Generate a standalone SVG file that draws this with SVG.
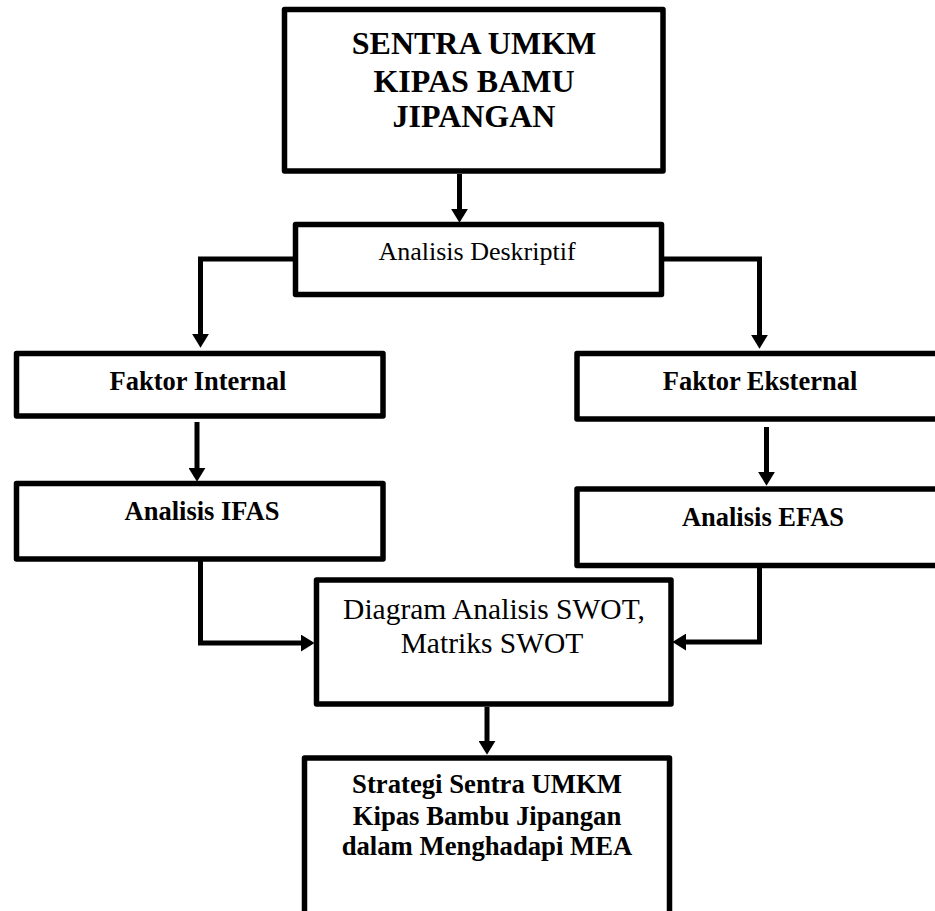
<svg xmlns="http://www.w3.org/2000/svg" width="935" height="911" viewBox="0 0 935 911">
<style>
.box{fill:#fff;stroke:#000;stroke-width:5.5;stroke-linejoin:round}
.con{fill:none;stroke:#000;stroke-width:5;stroke-linejoin:miter}
.t{font-family:"Liberation Serif","Times New Roman",serif;fill:#000;text-anchor:middle}
.b{font-weight:bold}
</style>
<defs>
<marker id="ah" markerUnits="userSpaceOnUse" markerWidth="14" markerHeight="17" viewBox="0 0 13 16" refX="3" refY="8" orient="auto">
<path d="M0,0 L13,8 L0,16 z" fill="#000"/>
</marker>
</defs>
<rect width="935" height="911" fill="#fff"/>
<g id="sentra">
<rect class="box" x="284.5" y="9.5" width="378.5" height="161.5"/>
<text class="t b" x="474" y="53.5" font-size="32">SENTRA UMKM</text>
<text class="t b" x="474" y="91.5" font-size="32">KIPAS BAMU</text>
<text class="t b" x="474" y="127" font-size="32">JIPANGAN</text>
</g>
<g id="deskriptif">
<rect class="box" x="295.5" y="224.5" width="366" height="70"/>
<text class="t" x="477" y="260" font-size="26">Analisis Deskriptif</text>
</g>
<g id="internal">
<rect class="box" x="16.5" y="353.5" width="366.5" height="62.5"/>
<text class="t b" x="198" y="390" font-size="26.5">Faktor Internal</text>
</g>
<g id="eksternal">
<rect class="box" x="577" y="353.5" width="370" height="65.5"/>
<text class="t b" x="760" y="390" font-size="26.5">Faktor Eksternal</text>
</g>
<g id="ifas">
<rect class="box" x="16.5" y="483.5" width="366.5" height="75.5"/>
<text class="t b" x="202" y="520" font-size="26.5">Analisis IFAS</text>
</g>
<g id="efas">
<rect class="box" x="577" y="489" width="370" height="76.5"/>
<text class="t b" x="763" y="526" font-size="26.5">Analisis EFAS</text>
</g>
<g id="swot">
<rect class="box" x="316.5" y="580" width="354.5" height="124"/>
<text class="t" x="494" y="619" font-size="29.5">Diagram Analisis SWOT,</text>
<text class="t" x="492" y="653" font-size="29.5">Matriks SWOT</text>
</g>
<g id="strategi">
<rect class="box" x="304.5" y="758" width="365" height="170"/>
<text class="t b" x="487" y="793" font-size="26.7">Strategi Sentra UMKM</text>
<text class="t b" x="487" y="824.5" font-size="26.7">Kipas Bambu Jipangan</text>
<text class="t b" x="487" y="855" font-size="26.7">dalam Menghadapi MEA</text>
</g>
<g id="connectors">
<path class="con" d="M459.5,174 V212" marker-end="url(#ah)"/>
<path class="con" d="M293,259 H200.5 V337" marker-end="url(#ah)"/>
<path class="con" d="M664,259 H759.5 V338" marker-end="url(#ah)"/>
<path class="con" d="M197,422 V471" marker-end="url(#ah)"/>
<path class="con" d="M766.5,427 V475" marker-end="url(#ah)"/>
<path class="con" d="M200.5,561 V643 H304" marker-end="url(#ah)"/>
<path class="con" d="M759.5,568 V642 H683" marker-end="url(#ah)"/>
<path class="con" d="M487,707 V744" marker-end="url(#ah)"/>
</g>
</svg>
